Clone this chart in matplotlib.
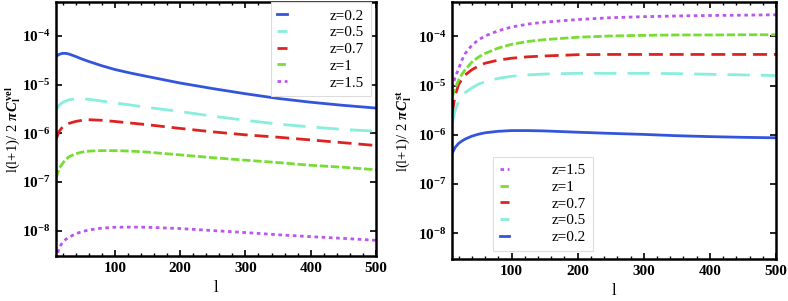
import matplotlib
matplotlib.use("Agg")
import matplotlib.pyplot as plt
from matplotlib.ticker import MultipleLocator, LogLocator, NullLocator

ell = [10, 15, 20, 25, 30, 40, 50, 60, 80, 100, 125, 150, 200, 250, 300, 350, 400, 450, 500]

redshifts = ["z=0.2", "z=0.5", "z=0.7", "z=1", "z=1.5"]

# left panel: velocity term
vel_z02 = [3.8e-5, 4.2e-5, 4.4e-5, 4.4e-5, 4.25e-5, 3.8e-5, 3.35e-5, 3.0e-5, 2.45e-5, 2.05e-5,
           1.72e-5, 1.47e-5, 1.08e-5, 8.3e-6, 6.5e-6, 5.2e-6, 4.35e-6, 3.75e-6, 3.3e-6]
vel_z05 = [3.0e-6, 3.8e-6, 4.3e-6, 4.6e-6, 4.9e-6, 5.1e-6, 5.1e-6, 5.0e-6, 4.6e-6, 4.2e-6,
           3.8e-6, 3.4e-6, 2.8e-6, 2.25e-6, 1.85e-6, 1.55e-6, 1.35e-6, 1.2e-6, 1.1e-6]
vel_z07 = [7.5e-7, 1.1e-6, 1.35e-6, 1.5e-6, 1.6e-6, 1.75e-6, 1.85e-6, 1.9e-6, 1.85e-6, 1.75e-6,
           1.62e-6, 1.5e-6, 1.26e-6, 1.07e-6, 9.3e-7, 8.3e-7, 7.3e-7, 6.4e-7, 5.6e-7]
vel_z10 = [1.2e-7, 1.9e-7, 2.4e-7, 2.9e-7, 3.3e-7, 3.8e-7, 4.1e-7, 4.3e-7, 4.4e-7, 4.4e-7,
           4.3e-7, 4.1e-7, 3.6e-7, 3.15e-7, 2.8e-7, 2.5e-7, 2.2e-7, 2.0e-7, 1.78e-7]
vel_z15 = [2.5e-9, 4.5e-9, 5.7e-9, 6.6e-9, 7.3e-9, 8.6e-9, 9.5e-9, 1.03e-8, 1.12e-8, 1.17e-8,
           1.18e-8, 1.17e-8, 1.1e-8, 1.0e-8, 9.1e-9, 8.2e-9, 7.5e-9, 6.9e-9, 6.3e-9]

# right panel: standard term
st_z02 = [4.2e-7, 5.6e-7, 6.7e-7, 7.5e-7, 8.2e-7, 9.4e-7, 1.03e-6, 1.1e-6, 1.18e-6, 1.22e-6,
          1.22e-6, 1.2e-6, 1.13e-6, 1.07e-6, 1.02e-6, 9.6e-7, 9.2e-7, 8.9e-7, 8.7e-7]
st_z05 = [1.7e-6, 3.2e-6, 4.8e-6, 6.0e-6, 7.2e-6, 9.0e-6, 1.07e-5, 1.2e-5, 1.4e-5, 1.55e-5,
          1.65e-5, 1.72e-5, 1.78e-5, 1.78e-5, 1.78e-5, 1.75e-5, 1.7e-5, 1.65e-5, 1.6e-5]
st_z07 = [2.7e-6, 6.5e-6, 1.05e-5, 1.35e-5, 1.65e-5, 2.1e-5, 2.5e-5, 2.85e-5, 3.3e-5, 3.6e-5,
          3.85e-5, 4.0e-5, 4.25e-5, 4.3e-5, 4.3e-5, 4.3e-5, 4.3e-5, 4.3e-5, 4.3e-5]
st_z10 = [5.9e-6, 9.0e-6, 1.3e-5, 1.7e-5, 2.1e-5, 3.0e-5, 3.8e-5, 4.5e-5, 5.8e-5, 6.9e-5,
          7.9e-5, 8.6e-5, 9.6e-5, 1.02e-4, 1.05e-4, 1.07e-4, 1.07e-4, 1.08e-4, 1.08e-4]
st_z15 = [9.0e-6, 1.5e-5, 2.2e-5, 3.3e-5, 4.5e-5, 6.6e-5, 8.5e-5, 1.02e-4, 1.3e-4, 1.55e-4,
          1.78e-4, 1.95e-4, 2.2e-4, 2.4e-4, 2.52e-4, 2.6e-4, 2.66e-4, 2.7e-4, 2.75e-4]

colors = ["#3355dd", "#88eedd", "#dd2222", "#77dd33", "#bb55ee"]
dashes = [None, (8, 4), (5, 2.5), (3, 1), (1.3, 1.3)]

plt.rcParams["font.family"] = ["Liberation Serif", "DejaVu Serif"]
plt.rcParams["font.weight"] = "bold"
plt.rcParams["font.size"] = 10
plt.rcParams["mathtext.fontset"] = "custom"
plt.rcParams["mathtext.rm"] = "Liberation Serif:bold"
plt.rcParams["mathtext.it"] = "Liberation Serif:italic:bold"
plt.rcParams["mathtext.bf"] = "Liberation Serif:bold"
plt.rcParams["mathtext.default"] = "rm"


def style_axes(ax, ylabel, label_x):
    ax.set_yscale("log")
    ax.set_xlim(10, 500)
    ax.set_ylim(3e-9, 5e-4)
    ax.xaxis.set_major_locator(MultipleLocator(100))
    ax.xaxis.set_minor_locator(MultipleLocator(20))
    ax.yaxis.set_major_locator(LogLocator(base=10, numticks=20))
    ax.yaxis.set_minor_locator(NullLocator())
    ax.tick_params(which="both", direction="in", top=True, right=True)
    ax.tick_params(axis="x", labelsize=11, pad=4)
    ax.tick_params(axis="y", labelsize=11, pad=4)
    ax.tick_params(which="major", length=4, width=1.2)
    ax.tick_params(which="minor", length=2.5, width=1)
    for sp in ax.spines.values():
        sp.set_linewidth(1.8)
    ax.set_xlabel("l", fontsize=12, labelpad=4)
    ax.set_ylabel(ylabel, fontsize=10.5)
    ax.yaxis.set_label_coords(label_x, 0.5)


fig = plt.figure(figsize=(7.88, 3.01), dpi=100)
ax1 = fig.add_axes([56 / 788, 1 - 256 / 301, 320 / 788, 254 / 301])
ax2 = fig.add_axes([452 / 788, 1 - 259 / 301, 324 / 788, 257 / 301])

vel = [vel_z02, vel_z05, vel_z07, vel_z10, vel_z15]
st = [st_z02, st_z05, st_z07, st_z10, st_z15]

for i in range(len(redshifts)):
    line, = ax1.plot(ell, vel[i], color=colors[i], lw=2, label=redshifts[i])
    if dashes[i]:
        line.set_dashes(dashes[i])

handles2 = []
for i in range(len(redshifts)):
    line, = ax2.plot(ell, st[i], color=colors[i], lw=2, label=redshifts[i])
    if dashes[i]:
        line.set_dashes(dashes[i])
    handles2.append(line)

style_axes(ax1, r"l(l+1)/ 2 $\mathit{\pi}\,\mathit{C}_{\mathrm{l}}^{\mathrm{vel}}$", -0.104)
style_axes(ax2, r"l(l+1)/ 2 $\mathit{\pi}\,\mathit{C}_{\mathrm{l}}^{\mathrm{st}}$", -0.12)

leg_font = {"family": "Liberation Serif", "weight": "normal", "size": 11}
leg1 = ax1.legend(loc="upper right", bbox_to_anchor=(0.983, 1.0), borderaxespad=0,
                  prop=leg_font, handlelength=0.6, handletextpad=2.8, labelspacing=0.2,
                  fancybox=False, framealpha=1, borderpad=0.45)
leg1.get_frame().set_edgecolor("#dddddd")
leg1.get_frame().set_linewidth(0.8)

leg2 = ax2.legend(handles2[::-1], redshifts[::-1], loc="lower left",
                  bbox_to_anchor=(0.127, 0.031), borderaxespad=0,
                  prop=leg_font, handlelength=0.6, handletextpad=2.8, labelspacing=0.2,
                  fancybox=False, framealpha=1, borderpad=0.45)
leg2.get_frame().set_edgecolor("#dddddd")
leg2.get_frame().set_linewidth(0.8)

fig.savefig("out.png", dpi=100)
